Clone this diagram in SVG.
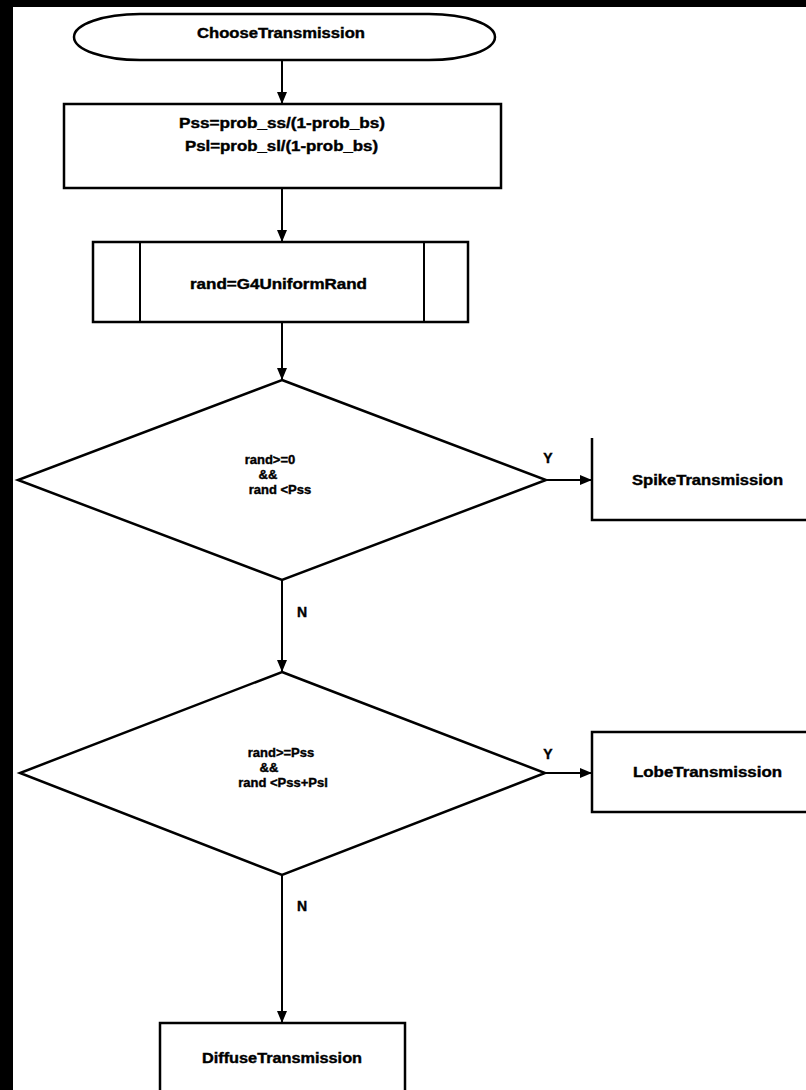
<svg xmlns="http://www.w3.org/2000/svg" width="806" height="1090" viewBox="0 0 806 1090">
<defs>
<marker id="arr" markerUnits="userSpaceOnUse" markerWidth="12" markerHeight="10" refX="12" refY="5" orient="auto">
<path d="M0,0 L12,5 L0,10 z" fill="#000"/>
</marker>
<style>
.box{fill:#fff;stroke:#000;stroke-width:2.5}
.ln{fill:none;stroke:#000;stroke-width:2}
.t{font-family:"Liberation Sans",Arial,sans-serif;font-weight:bold;font-size:14px;fill:#000;stroke:#000;stroke-width:0.4}
.s{font-size:13px;text-anchor:middle}
</style>
</defs>
<rect x="0" y="0" width="806" height="1090" fill="#fff"/>
<rect x="0" y="0" width="806" height="7" fill="#000"/>
<rect x="0" y="0" width="13" height="1090" fill="#000"/>
<g id="connectors">
<line class="ln" x1="282" y1="60" x2="282" y2="104" marker-end="url(#arr)"/>
<line class="ln" x1="282" y1="188" x2="282" y2="242" marker-end="url(#arr)"/>
<line class="ln" x1="282" y1="322" x2="282" y2="380" marker-end="url(#arr)"/>
<line class="ln" x1="282" y1="580" x2="282" y2="672" marker-end="url(#arr)"/>
<line class="ln" x1="282" y1="875" x2="282" y2="1023" marker-end="url(#arr)"/>
<line class="ln" x1="546" y1="480" x2="592" y2="480" marker-end="url(#arr)"/>
<line class="ln" x1="545" y1="773" x2="592" y2="773" marker-end="url(#arr)"/>
<text class="t" x="548" y="463" text-anchor="middle">Y</text>
<text class="t" x="548" y="759" text-anchor="middle">Y</text>
<text class="t" x="302" y="617" text-anchor="middle">N</text>
<text class="t" x="302" y="911" text-anchor="middle">N</text>
</g>
<g id="start">
<rect class="box" x="74" y="14" width="421" height="46" rx="66" ry="23"/>
<text class="t" x="197" y="38" textLength="168" lengthAdjust="spacingAndGlyphs">ChooseTransmission</text>
</g>
<g id="calc">
<rect class="box" x="64" y="104" width="437" height="84"/>
<text class="t" x="179" y="128" textLength="206" lengthAdjust="spacingAndGlyphs">Pss=prob_ss/(1-prob_bs)</text>
<text class="t" x="185" y="151" textLength="193" lengthAdjust="spacingAndGlyphs">Psl=prob_sl/(1-prob_bs)</text>
</g>
<g id="rand">
<rect class="box" x="93" y="242" width="375" height="80"/>
<line class="ln" x1="140" y1="242" x2="140" y2="322"/>
<line class="ln" x1="424" y1="242" x2="424" y2="322"/>
<text class="t" x="190" y="289" textLength="177" lengthAdjust="spacingAndGlyphs">rand=G4UniformRand</text>
</g>
<g id="dec1">
<polygon class="box" points="282,380 546,480 282,580 18,480"/>
<text class="t s" x="270" y="464">rand&gt;=0</text>
<text class="t s" x="268" y="479">&amp;&amp;</text>
<text class="t s" x="280" y="494">rand &lt;Pss</text>
</g>
<g id="spike">
<path class="box" d="M592,438 L592,520 L810,520"/>
<text class="t" x="632" y="485" textLength="151" lengthAdjust="spacingAndGlyphs">SpikeTransmission</text>
</g>
<g id="dec2">
<polygon class="box" points="282,672 545,773 282,875 20,773"/>
<text class="t s" x="281" y="757">rand&gt;=Pss</text>
<text class="t s" x="269" y="772">&amp;&amp;</text>
<text class="t s" x="283" y="787">rand &lt;Pss+Psl</text>
</g>
<g id="lobe">
<rect class="box" x="592" y="732" width="230" height="80"/>
<text class="t" x="633" y="777" textLength="149" lengthAdjust="spacingAndGlyphs">LobeTransmission</text>
</g>
<g id="diffuse">
<rect class="box" x="160" y="1023" width="245" height="90"/>
<text class="t" x="202" y="1063" textLength="160" lengthAdjust="spacingAndGlyphs">DiffuseTransmission</text>
</g>
</svg>
